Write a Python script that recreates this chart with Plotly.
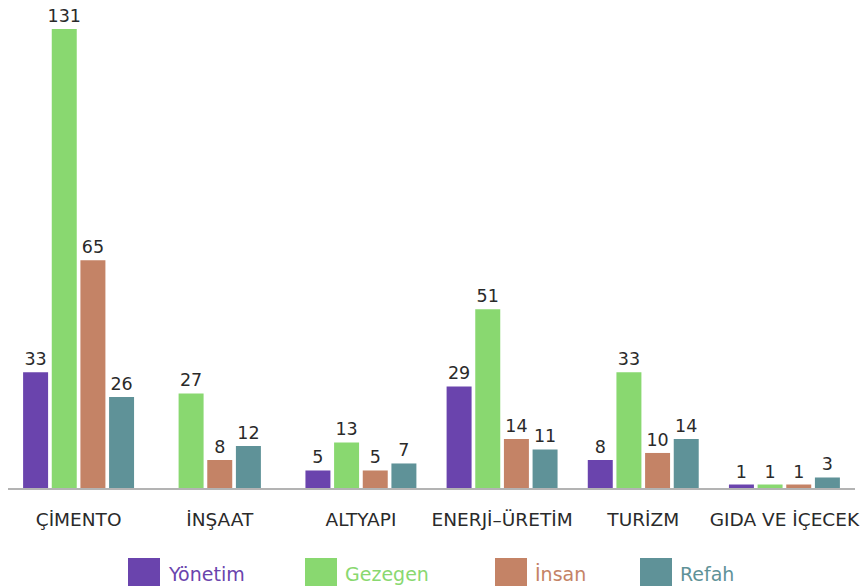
import plotly.graph_objects as go

categories = ["ÇİMENTO", "İNŞAAT", "ALTYAPI", "ENERJİ–ÜRETİM", "TURİZM", "GIDA VE İÇECEK"]
series_names = ["Yönetim", "Gezegen", "İnsan", "Refah"]
yonetim = [33, None, 5, 29, 8, 1]
gezegen = [131, 27, 13, 51, 33, 1]
insan = [65, 8, 5, 14, 10, 1]
refah = [26, 12, 7, 11, 14, 3]
series_values = [yonetim, gezegen, insan, refah]
colors = ["#6a44ad", "#89d870", "#c48366", "#5f9298"]

FONT = "DejaVu Sans"

# page body has an 8px margin; the figure is sized to fit in the window
PAGE_OFF = 8
W, H = 868 - PAGE_OFF, 587 - PAGE_OFF
ML, MR, MT, MB = 0, 13, 21, 99
pw = W - ML - MR
ph = H - MT - MB

pitch = 0.203
bw = 0.177

# per-bar offsets so that the bars present in each category are centered
offsets = [[0] * len(categories) for _ in series_values]
for ci in range(len(categories)):
    present = [si for si, vals in enumerate(series_values) if vals[ci] is not None]
    n = len(present)
    for k, si in enumerate(present):
        offsets[si][ci] = -n * pitch / 2 + k * pitch + (pitch - bw) / 2

fig = go.Figure()
for si, (name, vals, col) in enumerate(zip(series_names, series_values, colors)):
    fig.add_trace(go.Bar(
        x=categories, y=vals, name=name,
        marker=dict(color=col, line=dict(width=0)),
        width=bw,
        offset=offsets[si],
        text=[("" if v is None else str(v)) for v in vals],
        textposition="outside",
        constraintext="none",
        textfont=dict(family=FONT, size=17.5, color="#2a2a2a"),
        cliponaxis=False,
        showlegend=False,
        hoverinfo="x+y+name",
    ))

def px2x(px):
    return (px - PAGE_OFF - ML) / pw

def py2y(py):
    return (H - MB - (py - PAGE_OFF)) / ph

shapes = []
annotations = []
legend_x = [128, 305, 495, 640]
for name, col, lx in zip(series_names, colors, legend_x):
    shapes.append(dict(type="rect", xref="paper", yref="paper",
                       x0=px2x(lx), x1=px2x(lx + 32), y0=py2y(586), y1=py2y(558),
                       fillcolor=col, line=dict(width=0), layer="above"))
    annotations.append(dict(xref="paper", yref="paper", x=px2x(lx + 38), y=py2y(574),
                            xanchor="left", yanchor="middle", showarrow=False,
                            text=name, font=dict(family=FONT, size=19, color=col)))

fig.update_layout(
    width=W, height=H,
    margin=dict(l=ML, r=MR, t=MT, b=MB, autoexpand=False),
    plot_bgcolor="white", paper_bgcolor="white",
    barmode="overlay",
    xaxis=dict(type="category", showgrid=False, showline=True, linecolor="#b3b3b3", linewidth=2,
               ticks="outside", ticklen=14, tickcolor="rgba(0,0,0,0)", automargin=False,
               tickfont=dict(family=FONT, size=18.5, color="#2a2a2a"), fixedrange=True),
    yaxis=dict(range=[0, 131], visible=False, showgrid=False, zeroline=False, fixedrange=True),
    shapes=shapes, annotations=annotations,
    showlegend=False,
)

fig.write_html("out.html")
